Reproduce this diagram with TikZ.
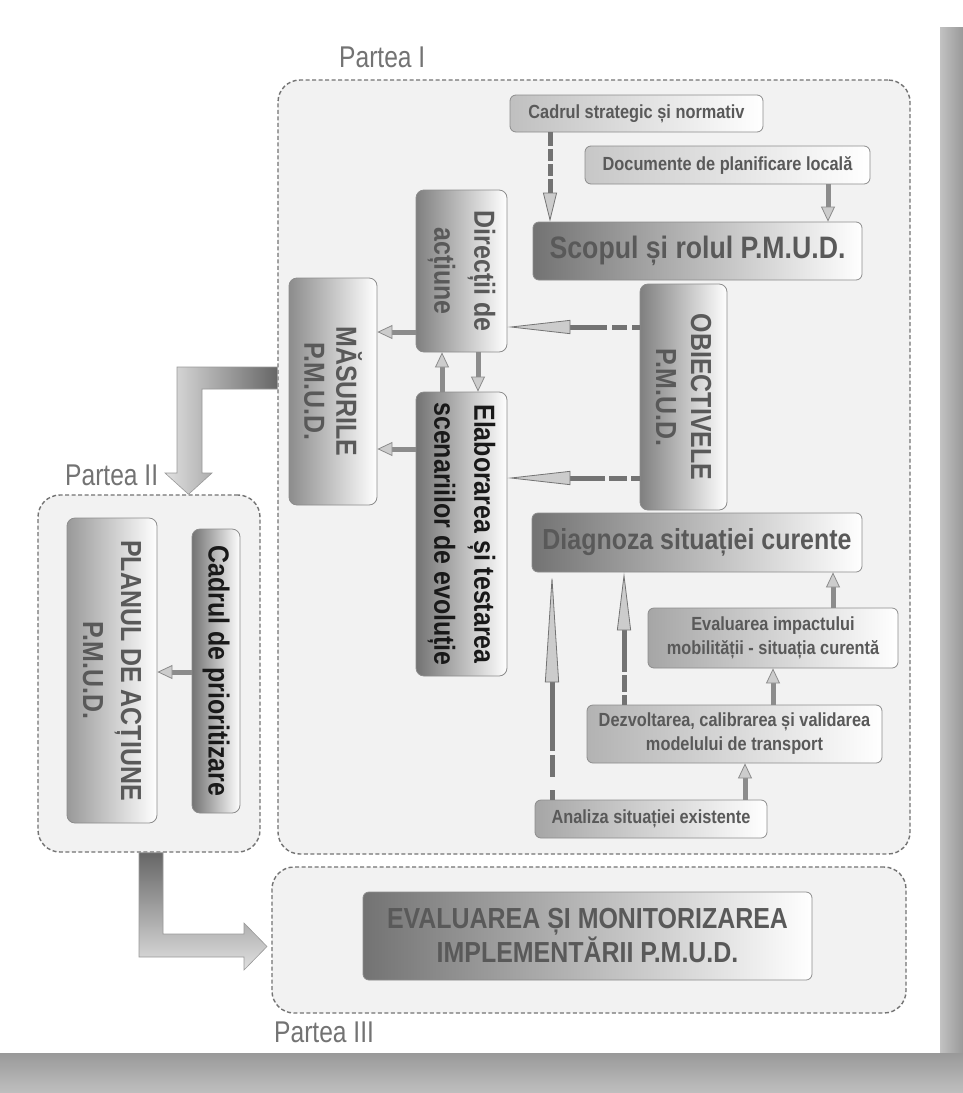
\documentclass[tikz,border=0pt]{standalone}
\usepackage{fontspec}
\setmainfont{Liberation Sans}[FakeStretch=0.86]
\newfontfamily\partfont{Liberation Sans}[FakeStretch=0.82]
\usepackage{tikz}
\usetikzlibrary{arrows.meta}
\tikzset{box/.style={draw=black!45,line width=0.8pt,rounded corners=6pt,inner sep=2pt,align=center,text=black!65,font=\bfseries\fontsize{19}{24}\selectfont}}
\tikzset{hbox/.style={box,left color=#1,right color=white}}
\tikzset{vbox/.style={box,rotate=-90,rounded corners=8pt,left color=#1,right color=white}}
\tikzset{big text/.style={font=\bfseries\fontsize{29}{#1}\selectfont}}
\tikzset{partframe/.style={draw=black!55,line width=1.4pt,dash pattern=on 4pt off 2.5pt,rounded corners=22pt,fill=black!5,inner sep=0pt}}
\tikzset{part label/.style={text=black!55,inner sep=0pt,anchor=base west,font=\partfont\fontsize{30}{34}\selectfont}}
\tikzset{link/.style={draw=black!45,line width=5pt,-{Triangle[length=15pt,width=14pt,fill=black!20,line width=0.8pt]}}}
\tikzset{long link/.style={draw=black!55,line width=5pt,-{Triangle[length=#1pt,width=14pt,fill=black!20,line width=0.8pt]}}}

\begin{document}
\begin{tikzpicture}[x=1pt,y=-1pt]
  \useasboundingbox (0,0) rectangle (963,1093);

  %pagina
  \fill[white] (0,0) rectangle (963,1093);
  \shade[left color=black!22,right color=black!40] (937,27) rectangle (963,1093);
  \shade[top color=black!40,bottom color=black!25] (0,1053) rectangle (963,1093);
  \fill[white] (0,0) rectangle (940,1053);

  %Partea I
  \node[partframe,minimum width=632pt,minimum height=774pt] (parteaI) at (594,467) {};
  \node[part label] (lblI) at (339,67) {Partea I};

  %Partea II
  \node[partframe,minimum width=222pt,minimum height=357pt] (parteaII) at (149,673.5) {};
  \node[part label] (lblII) at (65,485) {Partea II};

  %Partea III
  \node[partframe,minimum width=634pt,minimum height=146pt] (parteaIII) at (589,940) {};
  \node[part label] (lblIII) at (274,1042) {Partea III};

  %sageti mari
  \shade[left color=black!12,right color=black!60,draw=black!40,line width=0.6pt]
    (parteaI.west |- 0,367) -- (177,367) -- (177,473) -- (165,473) -- (parteaII.north -| 188.5,0)
    -- (212,473) -- (202,473) -- (202,389) -- (parteaI.west |- 0,389) -- cycle;
  \shade[top color=black!60,bottom color=black!12,draw=black!40,line width=0.6pt]
    (parteaII.south -| 139,0) -- (parteaII.south -| 163,0) -- (163,934) -- (244,934) -- (244,923)
    -- (267,946.5) -- (244,970) -- (244,957) -- (139,957) -- cycle;

  %cadrul si documentele
  \node[hbox=black!25,minimum width=253pt,minimum height=37pt] (cadru) at (636.5,113.5) {Cadrul strategic și normativ};
  \node[hbox=black!22,minimum width=285pt,minimum height=38pt] (documente) at (727.5,165) {Documente de planificare locală};
  \node[hbox=black!55,font=\bfseries\fontsize{31}{36}\selectfont,minimum width=329pt,minimum height=58pt] (scop) at (697.5,251) {Scopul și rolul P.M.U.D.};

  %casete verticale
  \node[vbox=black!50,big text=40,minimum width=162pt,minimum height=91pt] (directii) at (461.5,271) {Direcții de\\acțiune};
  \node[vbox=black!45,big text=32,minimum width=227pt,minimum height=88pt] (masuri) at (333,391.5) {MĂSURILE\\P.M.U.D.};
  \node[vbox=black!50,big text=35,minimum width=226pt,minimum height=87pt] (obiective) at (683.5,397) {OBIECTIVELE\\P.M.U.D.};
  \node[vbox=black!55,big text=40,text=black!90,minimum width=284pt,minimum height=91pt] (scenarii) at (461.5,534) {Elaborarea și testarea\\scenariilor de evoluție};

  %diagnoza
  \node[hbox=black!55,font=\bfseries\fontsize{29}{34}\selectfont,minimum width=330pt,minimum height=59pt] (diagnoza) at (697,542.5) {Diagnoza situației curente};
  \node[hbox=black!35,minimum width=250pt,minimum height=60pt] (impact) at (773,638) {Evaluarea impactului\\mobilității - situația curentă};
  \node[hbox=black!30,minimum width=295pt,minimum height=58pt] (model) at (734.5,734) {Dezvoltarea, calibrarea și validarea\\modelului de transport};
  \node[hbox=black!35,minimum width=232pt,minimum height=38pt] (analiza) at (651,819) {Analiza situației existente};

  %Partea II
  \node[vbox=black!40,big text=38,minimum width=305pt,minimum height=90pt] (plan) at (112,670.5) {PLANUL DE ACȚIUNE\\P.M.U.D.};
  \node[vbox=black!55,big text=34,text=black!90,minimum width=284pt,minimum height=48pt] (prioritizare) at (216,671) {Cadrul de prioritizare};

  %Partea III
  \node[hbox=black!55,big text=34,minimum width=449pt,minimum height=88pt] (evaluare) at (587.5,936) {EVALUAREA ȘI MONITORIZAREA\\IMPLEMENTĂRII P.M.U.D.};

  %legaturi
  \draw[long link=29,dash pattern=on 14pt off 3pt on 12pt off 3pt on 12pt off 3pt on 200pt] (cadru.south -| 550,0) -- (scop.north -| 550,0);
  \draw[link] (documente.south -| 828,0) -- (scop.north -| 828,0);
  \draw[link] (directii.south |- 0,332) -- (masuri.north |- 0,332);
  \draw[link] (scenarii.south |- 0,449) -- (masuri.north |- 0,449);
  \draw[link] (scenarii.west -| 442,0) -- (directii.east -| 442,0);
  \draw[link] (directii.east -| 478,0) -- (scenarii.west -| 478,0);
  \draw[long link=63,dash pattern=on 8pt off 5pt on 15pt off 5pt on 200pt] (obiective.south |- 0,327) -- (directii.north |- 0,327);
  \draw[long link=63,dash pattern=on 9pt off 4pt on 18pt off 4pt on 200pt] (obiective.south |- 0,478) -- (scenarii.north |- 0,478);
  \draw[long link=110,dash pattern=on 10pt off 13pt on 22pt off 4pt on 200pt] (analiza.north -| 552,0) -- (diagnoza.south -| 552,0);
  \draw[long link=58,dash pattern=on 10pt off 3pt on 17pt off 3pt on 200pt] (model.north -| 624,0) -- (diagnoza.south -| 624,0);
  \draw[link] (impact.north -| 833,0) -- (diagnoza.south -| 833,0);
  \draw[link] (model.north -| 773,0) -- (impact.south -| 773,0);
  \draw[link] (analiza.north -| 745,0) -- (model.south -| 745,0);
  \draw[link] (prioritizare.south |- 0,672) -- (plan.north |- 0,672);

\end{tikzpicture}
\end{document}
